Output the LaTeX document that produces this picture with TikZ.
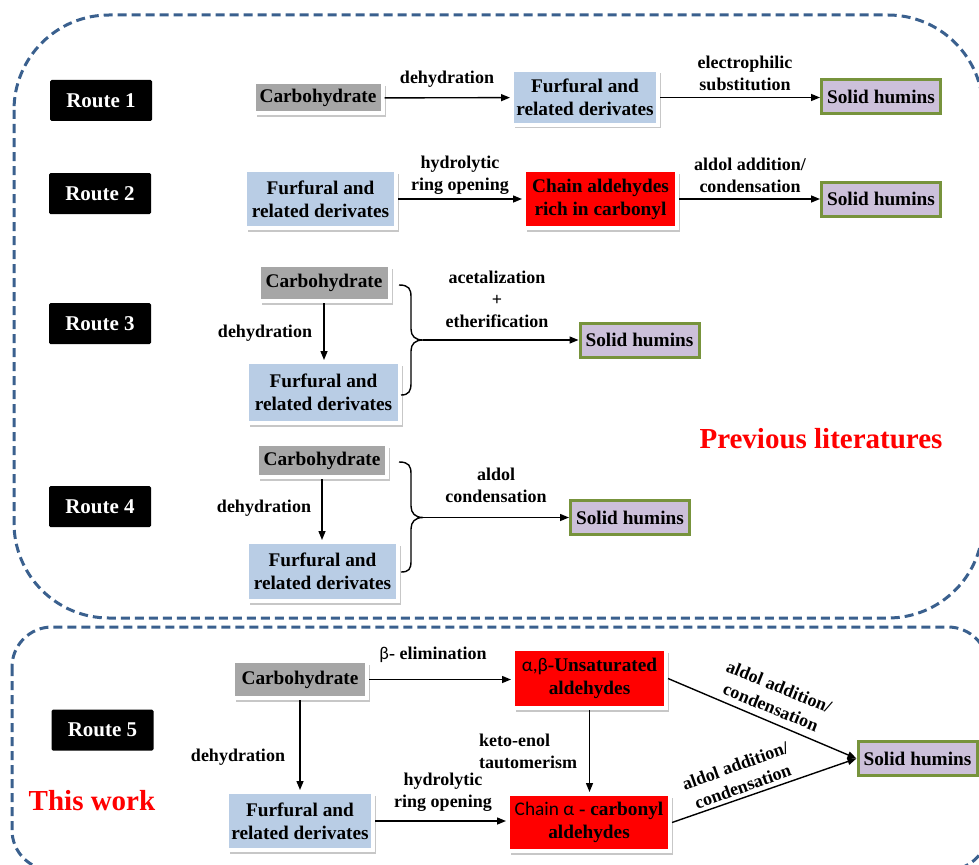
\documentclass[tikz,border=0pt]{standalone}
\usepackage{fontspec}
\setmainfont{Liberation Serif}
\newfontfamily\calibfnt{Carlito}
\usetikzlibrary{shadows,arrows.meta}
\definecolor{dashblue}{RGB}{58,96,142}
\definecolor{graybox}{RGB}{166,166,166}
\definecolor{bluebox}{RGB}{185,205,229}
\definecolor{redbox}{RGB}{255,0,0}
\definecolor{lavbox}{RGB}{204,192,218}
\definecolor{greenedge}{RGB}{119,147,60}
\newcommand\boxfnt{\fontsize{19.3}{23}\selectfont\bfseries}
\newcommand\labfnt{\fontsize{18}{22}\selectfont\bfseries}
\newcommand\routefnt{\fontsize{21}{25}\selectfont\bfseries}
\newcommand\bigfnt{\fontsize{29}{33}\selectfont\bfseries}
\begin{document}
\begin{tikzpicture}[x=1pt,y=-1pt,
  framebox/.style={draw=white, line width=4pt, outer sep=2pt, inner sep=0pt, align=center, font=\boxfnt,
     drop shadow={shadow xshift=3pt, shadow yshift=-3.5pt, opacity=0.22, fill=black}},
  carb/.style={framebox, fill=graybox},
  furf/.style={framebox, fill=bluebox},
  redb/.style={framebox, fill=redbox},
  humin/.style={draw=greenedge, fill=lavbox, line width=3pt, outer sep=1.5pt, inner sep=0pt, font=\boxfnt,
     minimum width=119pt, minimum height=34pt},
  route/.style={fill=black, text=white, font=\routefnt, rounded corners=1.5pt, minimum width=102pt, minimum height=41pt, inner sep=0pt},
  lab/.style={font=\labfnt, align=center, inner sep=0pt},
  arr/.style={-{Triangle[length=9pt,width=7pt]}, line width=1.4pt},
  brc/.style={line width=1.4pt},
  frame/.style={draw=dashblue, line width=3pt, dash pattern=on 9pt off 5pt}
]
\useasboundingbox (0,0) rectangle (979,864);
\begin{scope}
\clip (0,0) rectangle (979,864);
\draw[frame, rounded corners=95pt] (14,15) rectangle (983,618);
\draw[frame, rounded corners=40pt] (12,627) rectangle (988,870);
\end{scope}

% Route 1
\node[route] (r1) at (101,100.5) {Route 1};
\node[carb, minimum width=129pt, minimum height=31pt] (c1) at (318,98) {Carbohydrate};
\node[furf, minimum width=146pt, minimum height=55pt] (f1) at (585,97.5) {Furfural and\\related derivates};
\node[humin] (s1) at (881,96.5) {Solid humins};
\draw[arr] (c1) -- (f1);
\draw[arr] (f1) -- (f1 -| s1.west);
\node[lab] (l1a) at (447,79) {dehydration};
\node[lab] (l1b) at (745,73) {electrophilic\\substitution};

% Route 2
\node[route] (r2) at (100,193.5) {Route 2};
\node[furf, minimum width=151pt, minimum height=58pt] (f2) at (320.5,199) {Furfural and\\related derivates};
\node[redb, minimum width=153pt, minimum height=58pt] (ch2) at (600.5,199) {Chain aldehydes\\rich in carbonyl};
\node[humin] (s2) at (881,199) {Solid humins};
\draw[arr] (f2) -- (ch2);
\draw[arr] (ch2) -- (s2);
\node[lab] (l2a) at (460,175) {hydrolytic\\ring opening};
\node[lab] (l2b) at (750,175) {aldol addition/\\condensation};

% Route 3
\node[route] (r3) at (100,323.5) {Route 3};
\node[carb, minimum width=131pt, minimum height=36pt] (c3) at (324,283) {Carbohydrate};
\node[furf, minimum width=153pt, minimum height=61pt] (f3) at (323.5,392.5) {Furfural and\\related derivates};
\node[humin] (s3) at (639.5,340) {Solid humins};
\draw[arr] (c3.south) -- (c3.south |- f3.north);
\node[lab] (l3a) at (265,333) {dehydration};
\coordinate (b3) at (423,340);
\draw[brc] (399,285) .. controls (409,285) and (411,289) .. (411,297) -- (411,329)
  .. controls (411,336) and (415,340) .. (b3)
  .. controls (415,340) and (411,344) .. (411,351) -- (411,383)
  .. controls (411,391) and (409,395) .. (401,395);
\draw[arr] (b3) -- (s3);
\node[lab] (l3b) at (497,299) {acetalization\\+\\etherification};

% Route 4
\node[route] (r4) at (100,506.5) {Route 4};
\node[carb, minimum width=130pt, minimum height=33pt] (c4) at (322,460.5) {Carbohydrate};
\node[furf, minimum width=151pt, minimum height=59pt] (f4) at (322.5,571.5) {Furfural and\\related derivates};
\node[humin] (s4) at (630,517.5) {Solid humins};
\draw[arr] (c4.south) -- (c4.south |- f4.north);
\node[lab] (l4a) at (264,508) {dehydration};
\coordinate (b4) at (423,517.5);
\draw[brc] (399,462) .. controls (409,462) and (411,466) .. (411,474) -- (411,506)
  .. controls (411,513) and (415,517.5) .. (b4)
  .. controls (415,517.5) and (411,522) .. (411,529) -- (411,561)
  .. controls (411,569) and (409,572) .. (401,572);
\draw[arr] (b4) -- (s4);
\node[lab] (l4b) at (496,485) {aldol\\condensation};

\node[font=\bigfnt, text=red, inner sep=0pt] (prev) at (821,439) {Previous literatures};

% Route 5
\node[route] (r5) at (102.5,730) {Route 5};
\node[font=\bigfnt, text=red, inner sep=0pt] (tw) at (92,801) {This work};
\node[carb, minimum width=134pt, minimum height=37pt] (c5) at (300,679.5) {Carbohydrate};
\node[redb, minimum width=153pt, minimum height=59pt] (ab5) at (589.5,678.5) {{\calibfnt\mdseries α,β}-Unsaturated\\aldehydes};
\node[redb, minimum width=162pt, minimum height=57pt] (ch5) at (589,822.5) {{\calibfnt\mdseries Chain α} - carbonyl\\aldehydes};
\node[furf, minimum width=146pt, minimum height=58pt] (f5) at (300,821) {Furfural and\\related derivates};
\node[humin] (s5) at (917.5,758.5) {Solid humins};
\draw[arr] (c5) -- (c5 -| ab5.west);
\draw[arr] (c5.south) -- (c5.south |- f5.north);
\draw[arr] (ab5.south) -- (ab5.south |- ch5.north);
\draw[arr] (f5) -- (f5 -| ch5.west);
\draw[arr] (ab5.east) -- (s5.west);
\draw[arr] (ch5.east) -- (s5.west);
\node[lab] (l5a) at (433,655) {{\calibfnt\mdseries β}- elimination};
\node[lab] (l5b) at (238,757) {dehydration};
\node[lab, anchor=west, align=left] (l5c) at (479,751) {keto-enol\\tautomerism};
\node[lab] (l5d) at (443,792) {hydrolytic\\ring opening};
\node[lab, rotate=-22] (l5e) at (775,697) {aldol addition/\\condensation};
\node[lab, rotate=20] (l5f) at (739,776) {aldol addition/\\condensation};
\end{tikzpicture}
\end{document}
